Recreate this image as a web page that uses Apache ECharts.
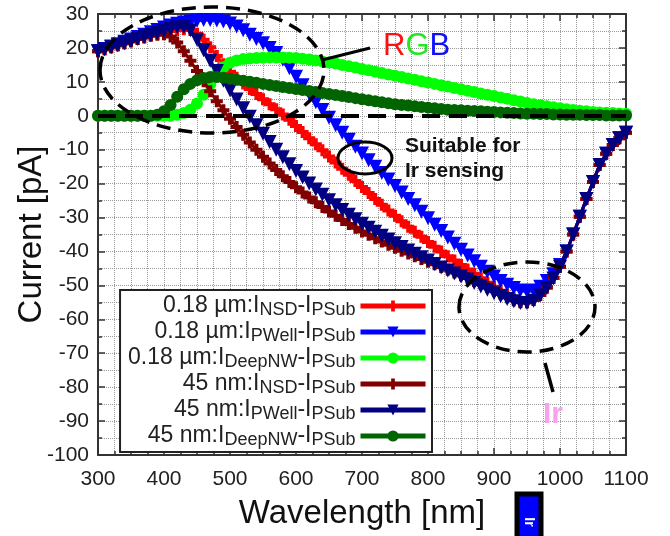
<!DOCTYPE html>
<html>
<head>
<meta charset="utf-8">
<script src="https://cdn.jsdelivr.net/npm/echarts@6/dist/echarts.min.js"></script>
<style>
  html, body { margin: 0; padding: 0; background: #fff; }
  #chart { width: 670px; height: 536px; }
</style>
</head>
<body>
<div id="chart"></div>
<script>
const FONT = '"Liberation Sans", Arial, sans-serif';

const wavelengths = [
  300, 310, 320, 330, 340, 350, 360, 370, 380, 390,
  400, 410, 420, 430, 440, 450, 460, 470, 480, 490,
  500, 510, 520, 530, 540, 550, 560, 570, 580, 590,
  600, 610, 620, 630, 640, 650, 660, 670, 680, 690,
  700, 710, 720, 730, 740, 750, 760, 770, 780, 790,
  800, 810, 820, 830, 840, 850, 860, 870, 880, 890,
  900, 910, 920, 930, 940, 950, 960, 970, 980, 990,
  1000, 1010, 1020, 1030, 1040, 1050, 1060, 1070, 1080, 1090,
  1100
];

// 0.18 um : I_NSD - I_PSub
const nsd018 = [
  19.0, 19.6, 20.2, 20.8, 21.4, 22.0, 22.6, 23.2, 23.7, 24.2,
  24.6, 25.0, 25.3, 25.5, 25.3, 24.2, 22.4, 20.2, 17.6, 15.2,
  13.0, 11.2, 9.5, 7.9, 6.4, 4.9, 3.4, 1.9, 0.4, -1.2,
  -3.0, -4.8, -6.6, -8.4, -10.2, -12.0, -13.8, -15.6, -17.4, -19.2,
  -21.0, -22.8, -24.5, -26.2, -27.9, -29.5, -31.1, -32.7, -34.2, -35.7,
  -37.2, -38.6, -40.0, -41.4, -42.7, -44.0, -45.3, -46.6, -47.9, -49.2,
  -50.4, -51.6, -52.8, -53.9, -54.8, -55.0, -54.3, -52.8, -50.6, -47.8,
  -44.5, -40.0, -35.0, -29.8, -24.5, -19.5, -14.5, -11.2, -8.6, -6.6,
  -5.0
];

// 0.18 um : I_PWell - I_PSub
const pwell018 = [
  19.0, 19.7, 20.4, 21.1, 21.8, 22.5, 23.2, 23.9, 24.6, 25.3,
  26.0, 26.6, 27.1, 27.5, 27.8, 28.0, 28.2, 28.2, 28.1, 27.8,
  27.2, 26.3, 25.2, 23.9, 22.6, 21.4, 20.0, 18.5, 16.5, 14.0,
  11.5, 9.0, 6.5, 4.0, 1.7, -0.6, -2.8, -5.0, -7.1, -9.1,
  -11.1, -13.1, -15.0, -16.9, -18.8, -20.7, -22.6, -24.5, -26.4, -28.3,
  -30.2, -32.1, -34.0, -35.9, -37.7, -39.5, -41.2, -42.9, -44.5, -46.0,
  -47.4, -48.7, -49.8, -50.8, -51.5, -51.8, -51.5, -50.4, -48.7, -46.7,
  -44.0, -40.0, -35.0, -29.8, -24.5, -19.5, -14.5, -11.2, -8.6, -6.6,
  -5.0
];

// 0.18 um : I_DeepNW - I_PSub
const deepnw018 = [
  0, 0, 0, 0, 0, 0, 0, 0, 0, 0,
  0, 0, 0.3, 0.8, 1.8, 3.6, 6.2, 9.3, 12.2, 14.3,
  15.6, 16.3, 16.7, 16.9, 17.0, 17.1, 17.2, 17.2, 17.2, 17.1,
  17.0, 16.8, 16.6, 16.3, 16.0, 15.7, 15.4, 15.0, 14.6, 14.2,
  13.8, 13.4, 13.0, 12.6, 12.2, 11.8, 11.4, 11.0, 10.6, 10.2,
  9.8, 9.4, 9.0, 8.6, 8.2, 7.8, 7.4, 7.0, 6.6, 6.2,
  5.8, 5.4, 5.0, 4.6, 4.2, 3.8, 3.4, 3.1, 2.8, 2.5,
  2.2, 1.9, 1.7, 1.5, 1.3, 1.1, 1.0, 0.9, 0.8, 0.7,
  0.6
];

// 45 nm : I_NSD - I_PSub
const nsd45 = [
  19.0, 19.6, 20.2, 20.8, 21.4, 22.0, 22.6, 23.1, 23.6, 23.9,
  24.0, 23.4, 21.6, 19.0, 16.2, 13.2, 10.2, 7.2, 4.3, 1.6,
  -0.9, -3.3, -5.6, -7.9, -10.0, -12.1, -14.1, -16.0, -17.8, -19.5,
  -21.1, -22.6, -24.1, -25.5, -26.9, -28.2, -29.5, -30.7, -31.9, -33.0,
  -34.1, -35.1, -36.1, -37.1, -38.0, -38.9, -39.8, -40.6, -41.4, -42.2,
  -43.0, -43.8, -44.6, -45.4, -46.2, -47.0, -47.8, -48.7, -49.6, -50.5,
  -51.5, -52.5, -53.5, -54.4, -55.0, -55.0, -54.3, -52.8, -50.6, -47.8,
  -44.5, -40.0, -35.0, -29.8, -24.5, -19.5, -14.5, -11.2, -8.6, -6.6,
  -5.0
];

// 45 nm : I_PWell - I_PSub
const pwell45 = [
  19.0, 19.6, 20.2, 20.8, 21.4, 22.0, 22.6, 23.2, 23.8, 24.4,
  25.0, 25.6, 26.1, 26.2, 25.2, 22.4, 19.3, 16.2, 13.2, 10.3,
  7.5, 4.8, 2.2, -0.3, -2.8, -5.3, -7.7, -10.0, -12.2, -14.3,
  -16.3, -18.2, -20.0, -21.7, -23.3, -24.9, -26.4, -27.8, -29.2, -30.5,
  -31.8, -33.0, -34.2, -35.4, -36.5, -37.6, -38.7, -39.7, -40.7, -41.7,
  -42.7, -43.7, -44.7, -45.6, -46.5, -47.4, -48.3, -49.3, -50.3, -51.3,
  -52.3, -53.2, -54.0, -54.7, -55.2, -55.2, -54.5, -53.0, -50.8, -48.0,
  -44.5, -40.0, -35.0, -29.8, -24.5, -19.5, -14.5, -11.2, -8.6, -6.6,
  -5.0
];

// 45 nm : I_DeepNW - I_PSub
const deepnw45 = [
  0, 0, 0, 0, 0, 0, 0, 0, 0, 0.3,
  1.3, 3.2, 5.6, 7.8, 9.4, 10.5, 11.1, 11.4, 11.4, 11.2,
  10.9, 10.6, 10.3, 10.0, 9.7, 9.4, 9.1, 8.8, 8.5, 8.2,
  7.9, 7.6, 7.3, 7.0, 6.7, 6.4, 6.1, 5.8, 5.5, 5.2,
  4.9, 4.6, 4.3, 4.0, 3.7, 3.4, 3.2, 3.0, 2.8, 2.6,
  2.4, 2.2, 2.0, 1.8, 1.7, 1.6, 1.5, 1.4, 1.3, 1.2,
  1.1, 1.0, 0.9, 0.8, 0.7, 0.6, 0.6, 0.5, 0.5, 0.4,
  0.4, 0.3, 0.3, 0.3, 0.2, 0.2, 0.2, 0.1, 0.1, 0.1,
  0.1
];

// legend text pieces: [prefix, first subscript, second subscript]
const legendParts = [
  ['0.18 µm:I', 'NSD', 'PSub'],
  ['0.18 µm:I', 'PWell', 'PSub'],
  ['0.18 µm:I', 'DeepNW', 'PSub'],
  ['45 nm:I', 'NSD', 'PSub'],
  ['45 nm:I', 'PWell', 'PSub'],
  ['45 nm:I', 'DeepNW', 'PSub']
];
const seriesNames = legendParts.map(p => p[0] + p[1] + '-I' + p[2]);

const plusSymbol = 'path://M3,0H6V3H9V6H6V9H3V6H0V3H3Z';

const seriesDefs = [
  { values: nsd018, color: '#ff0000', symbol: plusSymbol, size: 12, rotate: 0 },
  { values: pwell018, color: '#0000ff', symbol: 'triangle', size: 14, rotate: 180 },
  { values: deepnw018, color: '#00ff00', symbol: 'circle', size: 12, rotate: 0 },
  { values: nsd45, color: '#800000', symbol: plusSymbol, size: 12, rotate: 0 },
  { values: pwell45, color: '#000080', symbol: 'triangle', size: 14, rotate: 180 },
  { values: deepnw45, color: '#006400', symbol: 'circle', size: 12, rotate: 0 }
];

const series = seriesDefs.map((d, i) => ({
  name: seriesNames[i],
  type: 'line',
  data: wavelengths.map((w, k) => [w, d.values[k]]),
  symbol: d.symbol,
  symbolSize: d.size,
  symbolRotate: d.rotate,
  showSymbol: true,
  clip: false,
  lineStyle: { color: d.color, width: 3 },
  itemStyle: { color: d.color },
  emphasis: { disabled: true },
  z: 2 + i
}));

// dashed zero reference line
series[5].markLine = {
  silent: true,
  symbol: 'none',
  label: { show: false },
  lineStyle: { color: '#000', type: [18, 9], width: 4 },
  data: [{ yAxis: 0 }],
  z: 20
};

const tickStyle = { color: '#333', width: 1.5 };
const gridDots = { type: 'dotted', color: '#999', width: 1 };

function frameAxis(extra) {
  return Object.assign({
    type: 'value',
    axisLine: { show: true, onZero: false, lineStyle: { color: '#333', width: 2 } },
    axisTick: { show: true, inside: true, length: 7, lineStyle: tickStyle },
    minorTick: { show: true, length: 4, lineStyle: tickStyle },
    splitLine: { show: false },
    axisLabel: { show: false }
  }, extra);
}

const chart = echarts.init(document.getElementById('chart'));

chart.setOption({
  animation: false,
  backgroundColor: '#fff',
  grid: { left: 98, right: 44, top: 14, bottom: 81 },
  xAxis: [
    frameAxis({
      min: 300, max: 1100, interval: 100, position: 'bottom',
      minorTick: { show: true, splitNumber: 4, length: 4, lineStyle: tickStyle },
      splitLine: { show: true, lineStyle: gridDots },
      minorSplitLine: { show: true, lineStyle: gridDots },
      axisLabel: {
        show: true, color: '#222', fontSize: 21, fontFamily: FONT, margin: 14,
        formatter: v => String(v)
      },
      name: 'Wavelength [nm]',
      nameLocation: 'middle',
      nameGap: 42,
      nameMoveOverlap: false,
      nameTextStyle: { color: '#111', fontSize: 33, fontFamily: FONT }
    }),
    frameAxis({
      min: 300, max: 1100, interval: 100, position: 'top',
      minorTick: { show: true, splitNumber: 4, length: 4, lineStyle: tickStyle }
    })
  ],
  yAxis: [
    frameAxis({
      min: -100, max: 30, interval: 10, position: 'left',
      minorTick: { show: true, splitNumber: 2, length: 4, lineStyle: tickStyle },
      splitLine: { show: true, lineStyle: gridDots },
      minorSplitLine: { show: true, lineStyle: gridDots },
      axisLabel: { show: true, color: '#222', fontSize: 21, fontFamily: FONT, margin: 9 },
      name: 'Current [pA]',
      nameLocation: 'middle',
      nameGap: 50,
      nameMoveOverlap: false,
      nameTextStyle: { color: '#111', fontSize: 33, fontFamily: FONT }
    }),
    frameAxis({
      min: -100, max: 30, interval: 10, position: 'right',
      minorTick: { show: true, splitNumber: 2, length: 4, lineStyle: tickStyle }
    })
  ],
  legend: {
    orient: 'vertical',
    right: 238,
    top: 290,
    align: 'right',
    selectedMode: false,
    itemWidth: 65,
    itemHeight: 14,
    itemGap: 0,
    padding: [3, 4, 3, 8],
    backgroundColor: '#fff',
    borderColor: '#222',
    borderWidth: 2,
    lineStyle: { width: 5 },
    data: seriesNames,
    formatter: function (name) {
      const p = legendParts[seriesNames.indexOf(name)];
      return '{m|' + p[0] + '}{s|' + p[1] + '}{m|-I}{s|' + p[2] + '}';
    },
    textStyle: {
      color: '#222',
      fontFamily: FONT,
      rich: {
        m: { fontSize: 23, lineHeight: 21, fontFamily: FONT, color: '#222' },
        s: { fontSize: 18, lineHeight: 16, padding: [8, 0, 0, 0], fontFamily: FONT, color: '#222' }
      }
    },
    z: 30
  },
  graphic: [
    {
      type: 'ellipse', z: 100, silent: true,
      shape: { cx: 212, cy: 70, rx: 112, ry: 63 },
      style: { fill: 'none', stroke: '#000', lineWidth: 3.5, lineDash: [14, 8] }
    },
    {
      type: 'line', z: 100, silent: true,
      shape: { x1: 322, y1: 60, x2: 370, y2: 48 },
      style: { stroke: '#000', lineWidth: 3 }
    },
    {
      type: 'text', z: 100, silent: true, x: 383, y: 46,
      style: {
        text: '{r|R}{g|G}{b|B}',
        verticalAlign: 'middle',
        font: '31px ' + FONT,
        rich: {
          r: { fill: '#ff1010', font: '31px ' + FONT },
          g: { fill: '#22e822', font: '31px ' + FONT },
          b: { fill: '#1010ff', font: '31px ' + FONT }
        }
      }
    },
    {
      type: 'ellipse', z: 100, silent: true,
      shape: { cx: 365, cy: 158, rx: 27, ry: 16 },
      style: { fill: 'none', stroke: '#000', lineWidth: 3 }
    },
    {
      type: 'text', z: 100, silent: true, x: 405, y: 146,
      style: { text: 'Suitable for', font: 'bold 21px ' + FONT, fill: '#111', verticalAlign: 'middle' }
    },
    {
      type: 'text', z: 100, silent: true, x: 405, y: 171,
      style: { text: 'Ir sensing', font: 'bold 21px ' + FONT, fill: '#111', verticalAlign: 'middle' }
    },
    {
      type: 'ellipse', z: 100, silent: true,
      shape: { cx: 527, cy: 307, rx: 68, ry: 45 },
      style: { fill: 'none', stroke: '#000', lineWidth: 3.5, lineDash: [14, 8] }
    },
    {
      type: 'line', z: 100, silent: true,
      shape: { x1: 545, y1: 363, x2: 553, y2: 392 },
      style: { stroke: '#000', lineWidth: 3.5 }
    },
    {
      type: 'text', z: 100, silent: true, x: 543, y: 415,
      style: { text: 'Ir', font: 'bold 30px ' + FONT, fill: '#f9a0ee', verticalAlign: 'middle' }
    },
    {
      type: 'rect', z: 100, silent: true,
      shape: { x: 517, y: 494, width: 24, height: 50 },
      style: { fill: '#0000ff', stroke: '#000', lineWidth: 5 }
    },
    {
      type: 'text', z: 101, silent: true, x: 529, y: 522, rotation: -Math.PI / 2,
      style: { text: 'Ir', font: 'bold 14px ' + FONT, fill: '#fff', align: 'center', verticalAlign: 'middle' }
    }
  ],
  series: series
});
</script>
</body>
</html>
